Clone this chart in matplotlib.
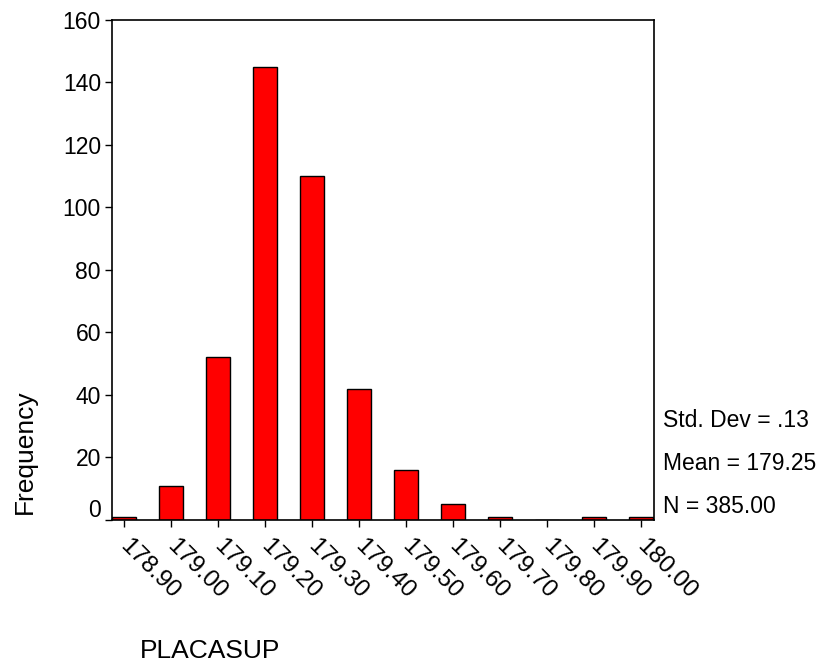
import matplotlib
matplotlib.use("Agg")
import matplotlib.pyplot as plt
import matplotlib.transforms as mtransforms
import numpy as np

# histogram counts
bins = ["178.90", "179.00", "179.10", "179.20", "179.30", "179.40",
        "179.50", "179.60", "179.70", "179.80", "179.90", "180.00"]
counts = [1, 11, 52, 145, 110, 42, 16, 5, 1, 0, 1, 1]
yticks = [0, 20, 40, 60, 80, 100, 120, 140, 160]
stats = ["Std. Dev = .13", "Mean = 179.25", "N = 385.00"]

plt.rcParams['font.family'] = ['Liberation Sans', 'DejaVu Sans']

fig = plt.figure(figsize=(8.22, 6.62), dpi=100)
ax = fig.add_axes([0.1363, 0.2145, 0.6594, 0.7553])

x = np.arange(len(bins))
ax.bar(x, counts, width=0.5, color='#ff0000', edgecolor='black', linewidth=1)

ax.set_xlim(-0.255, 11.28)
ax.set_ylim(0, 160)
ax.set_xticks(x)
ax.set_xticklabels(bins)
ax.set_yticks(yticks)
ax.tick_params(axis='both', direction='out', length=5, width=1, color='black')
ax.tick_params(axis='x', pad=6, labelsize=17.5)
ax.tick_params(axis='y', pad=3, labelsize=16.5)
for s in ax.spines.values():
    s.set_linewidth(1.2)
    s.set_color('black')

# rotated x labels hanging from the ticks
off = mtransforms.ScaledTranslation(7 / 100, 0, fig.dpi_scale_trans)
for lab in ax.get_xticklabels():
    lab.set_rotation(-45)
    lab.set_ha('left')
    lab.set_va('top')
    lab.set_rotation_mode('anchor')
    lab.set_transform(lab.get_transform() + off)

# the zero label sits a little above the baseline
zero = ax.yaxis.get_major_ticks()[0].label1
zero.set_transform(zero.get_transform() + mtransforms.ScaledTranslation(0, 12 / 100, fig.dpi_scale_trans))

fig.text(25 / 822, 1 - 452 / 662, "Frequency", rotation=90, ha='center', va='center', fontsize=19)
fig.text(140 / 822, 1 - 658 / 662, "PLACASUP", ha='left', va='baseline', fontsize=19)

for i, s in enumerate(stats):
    fig.text(663 / 822, 1 - (427 + 43 * i) / 662, s, ha='left', va='baseline', fontsize=16.5)

fig.savefig("out.png", dpi=100)
